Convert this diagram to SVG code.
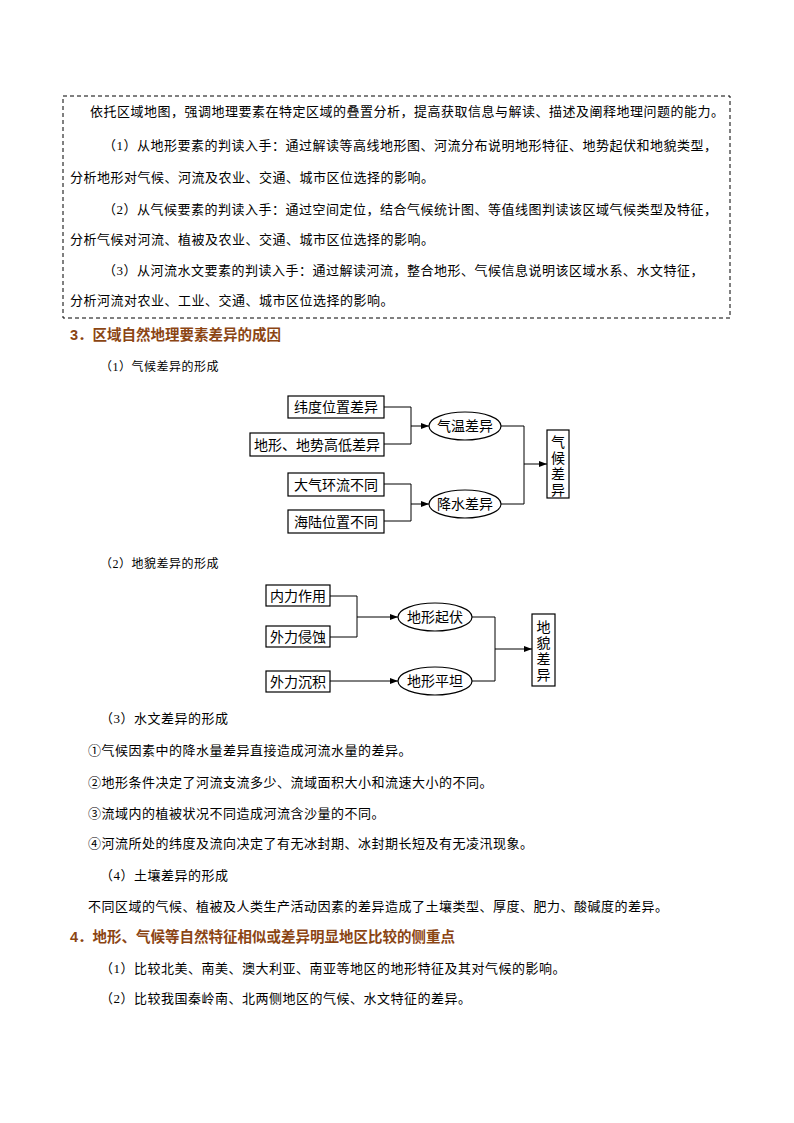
<svg xmlns="http://www.w3.org/2000/svg" width="794" height="1123" viewBox="0 0 794 1123">
<style>
text{font-family:"Liberation Serif","Noto Sans CJK SC",serif;fill:#000}
.t{font-size:13px;letter-spacing:0.5px}
.s{font-size:12px;letter-spacing:0.5px}
.h{font-size:14.5px;font-weight:bold;fill:#8B4513;font-family:"Liberation Sans","Noto Sans CJK SC",sans-serif}
.n{font-size:14px}
.b{fill:#fff;stroke:#000;stroke-width:1.2}
.l{fill:none;stroke:#000;stroke-width:1}
</style>
<defs><marker id="a" markerWidth="8" markerHeight="6" refX="8" refY="3" orient="auto" markerUnits="userSpaceOnUse"><path d="M0,0 L8,3 L0,6 Z" fill="#000"/></marker></defs>
<rect x="63" y="96" width="667" height="222" fill="none" stroke="#000" stroke-dasharray="4,3" stroke-width="1"/>
<g class="t">
<text x="90" y="116">依托区域地图，强调地理要素在特定区域的叠置分析，提高获取信息与解读、描述及阐释地理问题的能力。</text>
<text x="103" y="150">（1）从地形要素的判读入手：通过解读等高线地形图、河流分布说明地形特征、地势起伏和地貌类型，</text>
<text x="70" y="182">分析地形对气候、河流及农业、交通、城市区位选择的影响。</text>
<text x="103" y="214">（2）从气候要素的判读入手：通过空间定位，结合气候统计图、等值线图判读该区域气候类型及特征，</text>
<text x="70" y="244">分析气候对河流、植被及农业、交通、城市区位选择的影响。</text>
<text x="103" y="275">（3）从河流水文要素的判读入手：通过解读河流，整合地形、气候信息说明该区域水系、水文特征，</text>
<text x="70" y="305">分析河流对农业、工业、交通、城市区位选择的影响。</text>
</g>
<text class="h" x="70" y="340">3．区域自然地理要素差异的成因</text>
<text class="s" x="100" y="371">（1）气候差异的形成</text>
<g id="edges1">
<path class="l" d="M384,407 H411 V444 H384 M411,426 H429" marker-end="url(#a)"/>
<path class="l" d="M384,484 H411 V521 H384 M411,504 H429" marker-end="url(#a)"/>
<path class="l" d="M501,426 H524 V504 H501 M524,464 H547" marker-end="url(#a)"/>
</g>
<g id="n1"><rect class="b" x="288" y="396" width="96" height="22"/><text class="n" x="336" y="412" text-anchor="middle">纬度位置差异</text></g>
<g id="n2"><rect class="b" x="250" y="433" width="134" height="23"/><text class="n" x="317" y="450" text-anchor="middle">地形、地势高低差异</text></g>
<g id="n3"><rect class="b" x="288" y="473" width="96" height="23"/><text class="n" x="336" y="490" text-anchor="middle">大气环流不同</text></g>
<g id="n4"><rect class="b" x="288" y="510" width="96" height="23"/><text class="n" x="336" y="527" text-anchor="middle">海陆位置不同</text></g>
<g id="n5"><ellipse class="b" cx="465" cy="426" rx="36" ry="14"/><text class="n" x="465" y="431" text-anchor="middle">气温差异</text></g>
<g id="n6"><ellipse class="b" cx="465" cy="504" rx="36" ry="14"/><text class="n" x="465" y="509" text-anchor="middle">降水差异</text></g>
<g id="n7"><rect class="b" x="547" y="430" width="22" height="68"/><text class="n" x="558" text-anchor="middle"><tspan x="558" y="447">气</tspan><tspan x="558" y="463">候</tspan><tspan x="558" y="479">差</tspan><tspan x="558" y="495">异</tspan></text></g>
<text class="s" x="100" y="568">（2）地貌差异的形成</text>
<g id="edges2">
<path class="l" d="M330,596 H357 V637 H330 M357,617 H398" marker-end="url(#a)"/>
<path class="l" d="M330,681 H398" marker-end="url(#a)"/>
<path class="l" d="M472,617 H495 V681 H472 M495,649 H532" marker-end="url(#a)"/>
</g>
<g id="m1"><rect class="b" x="266" y="585" width="64" height="21"/><text class="n" x="298" y="601" text-anchor="middle">内力作用</text></g>
<g id="m2"><rect class="b" x="266" y="626" width="64" height="21"/><text class="n" x="298" y="642" text-anchor="middle">外力侵蚀</text></g>
<g id="m3"><rect class="b" x="266" y="671" width="64" height="21"/><text class="n" x="298" y="687" text-anchor="middle">外力沉积</text></g>
<g id="m4"><ellipse class="b" cx="435" cy="617" rx="37" ry="14"/><text class="n" x="435" y="622" text-anchor="middle">地形起伏</text></g>
<g id="m5"><ellipse class="b" cx="435" cy="681" rx="37" ry="14"/><text class="n" x="435" y="686" text-anchor="middle">地形平坦</text></g>
<g id="m6"><rect class="b" x="532" y="614" width="23" height="72"/><text class="n" x="543.5" text-anchor="middle"><tspan x="543.5" y="632">地</tspan><tspan x="543.5" y="648">貌</tspan><tspan x="543.5" y="664">差</tspan><tspan x="543.5" y="680">异</tspan></text></g>
<g class="t">
<text x="100" y="723">（3）水文差异的形成</text>
<text x="88" y="755">①气候因素中的降水量差异直接造成河流水量的差异。</text>
<text x="88" y="787">②地形条件决定了河流支流多少、流域面积大小和流速大小的不同。</text>
<text x="88" y="818">③流域内的植被状况不同造成河流含沙量的不同。</text>
<text x="88" y="848">④河流所处的纬度及流向决定了有无冰封期、冰封期长短及有无凌汛现象。</text>
<text x="100" y="880">（4）土壤差异的形成</text>
<text x="88" y="911">不同区域的气候、植被及人类生产活动因素的差异造成了土壤类型、厚度、肥力、酸碱度的差异。</text>
</g>
<text class="h" x="70" y="942">4．地形、气候等自然特征相似或差异明显地区比较的侧重点</text>
<g class="t">
<text x="100" y="973">（1）比较北美、南美、澳大利亚、南亚等地区的地形特征及其对气候的影响。</text>
<text x="100" y="1003">（2）比较我国秦岭南、北两侧地区的气候、水文特征的差异。</text>
</g>
</svg>
